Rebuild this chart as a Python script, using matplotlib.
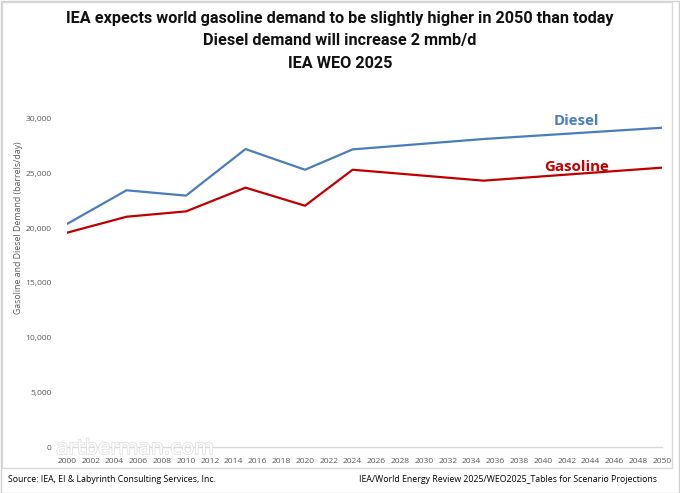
import matplotlib
matplotlib.use("Agg")
import matplotlib.pyplot as plt
import matplotlib.patheffects as pe
from matplotlib import font_manager
from matplotlib.patches import Rectangle

# values (barrels/day)
years = [2000, 2005, 2010, 2015, 2020, 2024, 2035, 2050]
diesel = [20400, 23480, 22990, 27250, 25360, 27220, 28170, 29200]
gasoline = [19600, 21060, 21550, 23720, 22070, 25360, 24360, 25550]
xticks = list(range(2000, 2051, 2))
yticks = [0, 5000, 10000, 15000, 20000, 25000, 30000]

title_lines = ["IEA expects world gasoline demand to be slightly higher in 2050 than today",
               "Diesel demand will increase 2 mmb/d",
               "IEA WEO 2025"]

names = {f.name for f in font_manager.fontManager.ttflist}
narrow = "Liberation Sans Narrow" if "Liberation Sans Narrow" in names else "Roboto"
body = "Open Sans"

blue = "#4a7ebb"
red = "#c00000"
tick_gray = "#595959"

fig = plt.figure(figsize=(6.8, 4.93), dpi=100)
W, H = 680, 493

# outer frame and chart box
fig.patches.append(Rectangle((0.5 / W, 0.5 / H), 1 - 1.5 / W, 1 - 1.5 / H, transform=fig.transFigure,
                             fill=False, edgecolor="#d0d0d0", lw=1))
fig.patches.append(Rectangle((2 / W, (H - 468) / H), 670 / W, 466 / H, transform=fig.transFigure,
                             fill=False, edgecolor="#d9d9d9", lw=1))

ax = fig.add_axes([67 / W, (H - 447) / H, 595 / W, 347 / H])
ax.plot(years, diesel, color=blue, lw=1.6, solid_joinstyle="round")
ax.plot(years, gasoline, color=red, lw=1.6, solid_joinstyle="round")

ax.set_xlim(2000, 2050)
ax.set_ylim(0, 30000 * 347 / 328)
ax.set_xticks(xticks)
ax.set_xticklabels([str(y) for y in xticks])
ax.set_yticks(yticks)
ax.set_yticklabels([f"{v:,}" for v in yticks])
ax.tick_params(axis="x", length=0, labelsize=6.1, labelcolor=tick_gray, pad=8)
ax.tick_params(axis="y", length=0, labelsize=6.1, labelcolor=tick_gray, pad=11)
for lbl in ax.get_xticklabels() + ax.get_yticklabels():
    lbl.set_family(body)
for s in ["top", "right", "left"]:
    ax.spines[s].set_visible(False)
ax.spines["bottom"].set_color("#d9d9d9")
ax.spines["bottom"].set_linewidth(1)
ax.patch.set_alpha(0)

fig.text(19 / W, 1 - 228 / H, "Gasoline and Diesel Demand (barrels/day)", rotation=90,
         ha="center", va="center", fontsize=6.3, color=tick_gray, family=body)

ax.text(2042.8, 29850, "Diesel", color=blue, fontsize=10.8, fontweight="bold",
        ha="center", va="center", family=body)
ax.text(2042.8, 25650, "Gasoline", color=red, fontsize=10.8, fontweight="bold",
        ha="center", va="center", family=body)

# faint watermark sitting on the baseline
fig.text(56 / W, 1 - 454 / H, "artberman.com", color="white", fontsize=14.7, ha="left", va="baseline",
         family="DejaVu Sans", zorder=0,
         path_effects=[pe.withStroke(linewidth=1.1, foreground="#dedede")])

for i, line in enumerate(title_lines):
    fig.text(0.5, 1 - (19 + 22 * i) / H, line, ha="center", va="center", fontsize=11.7,
             fontweight="bold", family=narrow, color="#111111")

fig.text(8 / W, 1 - 479 / H, "Source: IEA, EI & Labyrinth Consulting Services, Inc.",
         ha="left", va="center", fontsize=6.3, family=body)
fig.text(657 / W, 1 - 479 / H, "IEA/World Energy Review 2025/WEO2025_Tables for Scenario Projections",
         ha="right", va="center", fontsize=6.3, family=body)

fig.savefig("out.png", dpi=100)
